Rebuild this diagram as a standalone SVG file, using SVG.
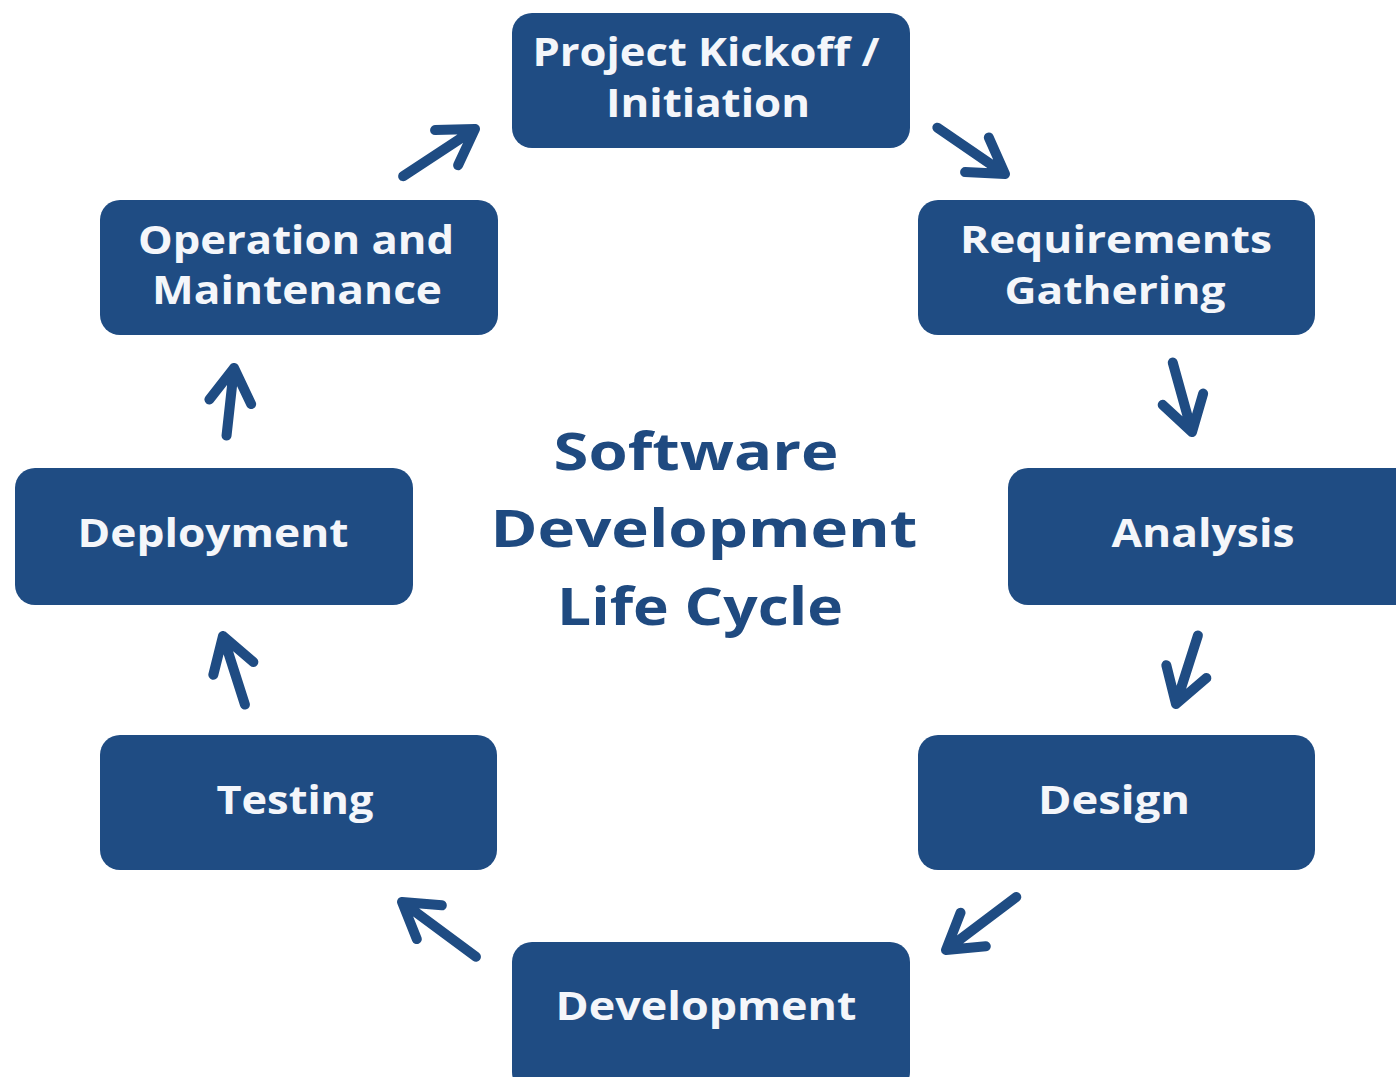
<svg xmlns="http://www.w3.org/2000/svg" width="1396" height="1077" viewBox="0 0 1396 1077">
<style>
.box{fill:#1f4c83;}
.lbl{fill:#f4f6fa;font-family:"Open Sans","Noto Sans","DejaVu Sans",sans-serif;font-weight:700;font-size:40px;text-anchor:middle;}
.sm{font-size:37px;}
.title{fill:#1f4a80;font-family:"Open Sans","Noto Sans","DejaVu Sans",sans-serif;font-weight:700;font-size:52px;text-anchor:middle;}
.arr{fill:none;stroke:#1f4c83;stroke-width:10;stroke-linecap:round;stroke-linejoin:round;}
</style>
<rect width="1396" height="1077" fill="#ffffff"/>
<g id="title">
<text class="title" x="696" y="470" textLength="285" lengthAdjust="spacingAndGlyphs">Software</text>
<text class="title" x="704" y="547" textLength="427" lengthAdjust="spacingAndGlyphs">Development</text>
<text class="title" x="700" y="625" textLength="286" lengthAdjust="spacingAndGlyphs">Life Cycle</text>
</g>
<g id="node-kickoff">
<rect class="box" x="512" y="13" width="398" height="135" rx="20"/>
<text class="lbl" x="706" y="66" textLength="347" lengthAdjust="spacingAndGlyphs">Project Kickoff /</text>
<text class="lbl" x="708" y="117" textLength="204" lengthAdjust="spacingAndGlyphs">Initiation</text>
</g>
<g id="node-requirements">
<rect class="box" x="918" y="200" width="397" height="135" rx="20"/>
<text class="lbl sm" x="1116" y="253" textLength="312" lengthAdjust="spacingAndGlyphs">Requirements</text>
<text class="lbl sm" x="1115" y="304" textLength="221" lengthAdjust="spacingAndGlyphs">Gathering</text>
</g>
<g id="node-analysis">
<rect class="box" x="1008" y="468" width="410" height="137" rx="20"/>
<text class="lbl" x="1203" y="547" textLength="183" lengthAdjust="spacingAndGlyphs">Analysis</text>
</g>
<g id="node-design">
<rect class="box" x="918" y="735" width="397" height="135" rx="20"/>
<text class="lbl" x="1114" y="814" textLength="152" lengthAdjust="spacingAndGlyphs">Design</text>
</g>
<g id="node-development">
<rect class="box" x="512" y="942" width="398" height="150" rx="20"/>
<text class="lbl" x="706" y="1020" textLength="301" lengthAdjust="spacingAndGlyphs">Development</text>
</g>
<g id="node-testing">
<rect class="box" x="100" y="735" width="397" height="135" rx="20"/>
<text class="lbl" x="295" y="814" textLength="157" lengthAdjust="spacingAndGlyphs">Testing</text>
</g>
<g id="node-deployment">
<rect class="box" x="15" y="468" width="398" height="137" rx="20"/>
<text class="lbl" x="213" y="547" textLength="271" lengthAdjust="spacingAndGlyphs">Deployment</text>
</g>
<g id="node-operation">
<rect class="box" x="100" y="200" width="398" height="135" rx="20"/>
<text class="lbl" x="296" y="254" textLength="316" lengthAdjust="spacingAndGlyphs">Operation and</text>
<text class="lbl" x="297" y="304" textLength="290" lengthAdjust="spacingAndGlyphs">Maintenance</text>
</g>
<g id="connectors">
<path class="arr" transform="translate(475,129) rotate(-33.3)" d="M-86,0 L0,0 M-34,-21 L0,0 L-34,21"/>
<path class="arr" transform="translate(1005,174) rotate(34.4)" d="M-82,0 L0,0 M-34,-21 L0,0 L-34,21"/>
<path class="arr" transform="translate(1192,432) rotate(74.5)" d="M-72,0 L0,0 M-34,-21 L0,0 L-34,21"/>
<path class="arr" transform="translate(1176,704) rotate(107.7)" d="M-72,0 L0,0 M-34,-21 L0,0 L-34,21"/>
<path class="arr" transform="translate(946,950) rotate(143)" d="M-88,0 L0,0 M-34,-21 L0,0 L-34,21"/>
<path class="arr" transform="translate(402,902) rotate(216.5)" d="M-92,0 L0,0 M-34,-21 L0,0 L-34,21"/>
<path class="arr" transform="translate(223,636) rotate(-107.7)" d="M-72,0 L0,0 M-34,-21 L0,0 L-34,21"/>
<path class="arr" transform="translate(234,368) rotate(-83.7)" d="M-68,0 L0,0 M-34,-21 L0,0 L-34,21"/>
</g>
</svg>
